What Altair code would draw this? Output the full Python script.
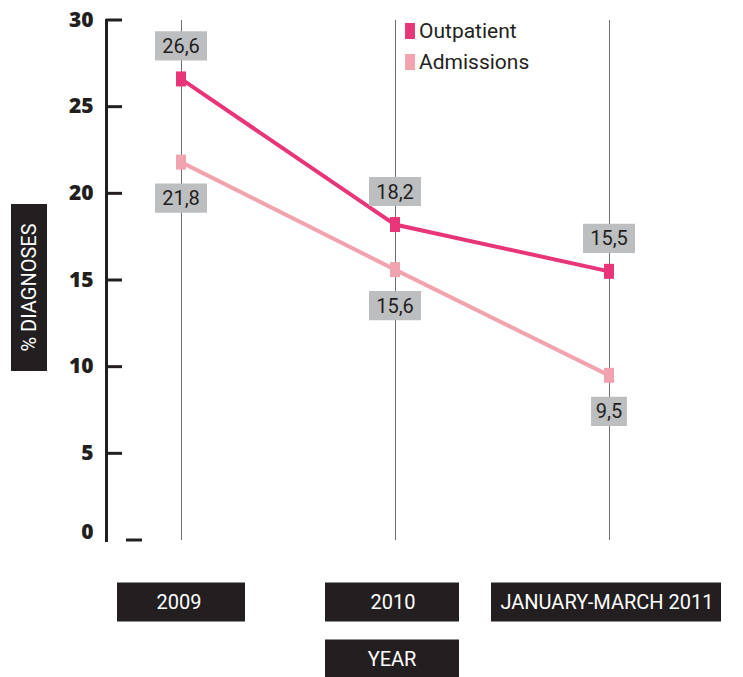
import altair as alt
import pandas as pd

periods = ["2009", "2010", "JANUARY-MARCH 2011"]
outpatient = [26.6, 18.2, 15.5]
admissions = [21.8, 15.6, 9.5]
series_names = ["Outpatient", "Admissions"]
series_colors = ["#e8357a", "#f2a3b0"]
y_ticks = [0, 5, 10, 15, 20, 25, 30]
x_title = "YEAR"
y_title = "% DIAGNOSES"

FONT = "Roboto"
BOLD_FONT = "Open Sans"
DARK = "#231f20"
BOX = "#bdbec0"

rows = []
for p, o, a in zip(periods, outpatient, admissions):
    for s, v in (("Outpatient", o), ("Admissions", a)):
        rows.append({"period": p, "series": s, "value": v,
                     "label": f"{v:.1f}".replace(".", ",")})
df = pd.DataFrame(rows)
df["nch"] = df["label"].str.len()

per_df = pd.DataFrame({"period": periods})
tick_df = pd.DataFrame({"value": y_ticks})

x_enc = alt.X("period:N", scale=alt.Scale(type="point", domain=periods, range=[75, 503], padding=0), axis=None)
y_scale = alt.Scale(domain=[0, 30])
color_scale = alt.Scale(domain=series_names, range=series_colors)

# gray vertical guide rules
guides = alt.Chart(per_df).mark_rule(color="#6e6e6e", strokeWidth=1, xOffset=0.5).encode(
    x=x_enc, y=alt.value(0), y2=alt.value(520)
)

# y axis (domain + labels)
axis_layer = alt.Chart(tick_df).mark_rule(opacity=0).encode(
    y=alt.Y("value:Q", scale=y_scale, axis=alt.Axis(
        values=y_ticks, tickSize=0, domainWidth=3, domainColor=DARK, domainCap="square",
        labelFont=BOLD_FONT, labelFontWeight=800, labelFontSize=21, labelColor=DARK,
        labelPadding=13, grid=False, title=None,
        labelOffset={"condition": {"test": "datum.value === 0", "value": -8}, "value": 0},
    )),
    x=alt.value(0), x2=alt.value(1),
)
ticks = alt.Chart(tick_df).transform_filter("datum.value > 0").mark_rule(
    color=DARK, strokeWidth=3).encode(
    y=alt.Y("value:Q", scale=y_scale), x=alt.value(0), x2=alt.value(16)
)
zero_tick = alt.Chart(tick_df).transform_filter("datum.value === 0").mark_rule(
    color=DARK, strokeWidth=3).encode(
    y=alt.Y("value:Q", scale=y_scale), x=alt.value(20), x2=alt.value(36)
)

lines = alt.Chart(df).mark_line(strokeWidth=4).encode(
    x=x_enc,
    y=alt.Y("value:Q", scale=y_scale),
    stroke=alt.Stroke("series:N", scale=color_scale, legend=None),
    detail="series:N",
)

marker_path = "M-0.67,-1H0.67V1H-0.67Z"
points = alt.Chart(df).mark_point(filled=True, opacity=1, shape=marker_path, size=225, strokeWidth=0).encode(
    x=x_enc,
    y=alt.Y("value:Q", scale=y_scale),
    fill=alt.Fill("series:N", scale=color_scale, legend=None),
)

# legend (built from the same colour scale)
legend_layers = []
for i, name in enumerate(series_names):
    ldf = pd.DataFrame({"series": [name]})
    ly = 11 + 31 * i
    legend_layers.append(
        alt.Chart(ldf).mark_point(filled=True, opacity=1, shape="M-0.62,-1H0.62V1H-0.62Z",
                                  size=256, strokeWidth=0).encode(
            x=alt.value(304), y=alt.value(ly),
            fill=alt.Fill("series:N", scale=color_scale, legend=None))
    )
    legend_layers.append(
        alt.Chart(ldf).mark_text(font=FONT, fontSize=21, color=DARK, align="left",
                                 baseline="middle", dy=1).encode(
            x=alt.value(313), y=alt.value(ly), text="series:N")
    )

box3 = "M-0.69,-0.56H0.69V0.56H-0.69Z"
box4 = "M-1,-0.56H1V0.56H-1Z"


def value_labels(series, dy):
    base = alt.Chart(df).transform_filter(alt.datum.series == series)
    boxes = base.mark_point(filled=True, opacity=1, color=BOX, size=2704, strokeWidth=0, yOffset=dy).encode(
        x=x_enc,
        y=alt.Y("value:Q", scale=y_scale),
        shape=alt.Shape("nch:O", scale=alt.Scale(domain=[3, 4], range=[box3, box4]), legend=None),
    )
    texts = base.mark_text(font=FONT, fontSize=20, color=DARK, baseline="middle", yOffset=dy + 1).encode(
        x=x_enc, y=alt.Y("value:Q", scale=y_scale), text="label:N"
    )
    return boxes + texts


out_labels = value_labels("Outpatient", -33)
adm_labels = value_labels("Admissions", 36)

# category boxes below the plot
cat_shapes = [
    "M-0.5565,-0.1696H0.5565V0.1696H-0.5565Z",
    "M-0.6087,-0.1696H0.5565V0.1696H-0.6087Z",
    "M-1.026,-0.1696H0.974V0.1696H-1.026Z",
]
cat_boxes = alt.Chart(per_df).mark_point(filled=True, opacity=1, color=DARK, size=52900, strokeWidth=0).encode(
    x=x_enc, y=alt.value(582),
    shape=alt.Shape("period:N", scale=alt.Scale(domain=periods, range=cat_shapes), legend=None),
)
cat_text = alt.Chart(per_df).mark_text(font=FONT, fontSize=20, color="white", baseline="middle", dy=1, dx=-2).encode(
    x=x_enc, y=alt.value(582), text="period:N"
)

title_df = pd.DataFrame({"period": [periods[1]], "t": [x_title]})
xt_box = alt.Chart(title_df).mark_point(filled=True, opacity=1, color=DARK, size=52900, strokeWidth=0,
                                        shape=cat_shapes[1]).encode(x=x_enc, y=alt.value(639))
xt_text = alt.Chart(title_df).mark_text(font=FONT, fontSize=20, color="white", baseline="middle", dy=1, dx=-3).encode(
    x=x_enc, y=alt.value(639), text="t:N")

yt_df = pd.DataFrame({"t": [y_title]})
yt_box = alt.Chart(yt_df).mark_point(filled=True, opacity=1, color=DARK, size=27889, strokeWidth=0,
                                     shape="M-0.2156,-1H0.2156V1H-0.2156Z").encode(
    x=alt.value(-77), y=alt.value(267.5))
yt_text = alt.Chart(yt_df).mark_text(font=FONT, fontSize=20, color="white", baseline="middle", angle=270, dy=1).encode(
    x=alt.value(-77), y=alt.value(267.5), text="t:N")

chart = alt.layer(
    axis_layer, guides, ticks, zero_tick, lines, points, *legend_layers,
    out_labels, adm_labels, cat_boxes, cat_text, xt_box, xt_text, yt_box, yt_text,
).properties(
    width=620, height=520,
    autosize=alt.AutoSizeParams(type="none"),
    padding={"left": 106, "top": 20, "right": 17, "bottom": 137},
    background="white",
).configure_view(stroke=None).resolve_scale(shape="independent")

chart.save("out.html", embed_options={"renderer": "svg", "actions": False})
